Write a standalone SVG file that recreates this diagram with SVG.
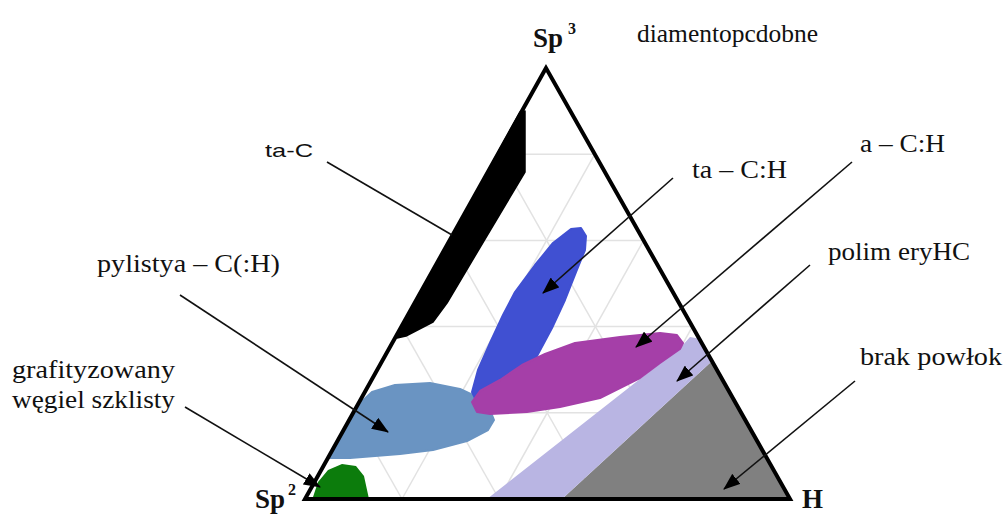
<svg xmlns="http://www.w3.org/2000/svg" width="1005" height="515" viewBox="0 0 1005 515">
<style>
.lbl{font-family:"Liberation Serif","Times New Roman",serif;font-size:25px;fill:#111}
.sans{font-family:"Liberation Sans",Arial,sans-serif;font-size:19px;fill:#111}
.vx{font-family:"Liberation Serif","Times New Roman",serif;font-weight:bold;fill:#111}
.grid{stroke:#e2e2e2;stroke-width:1.5;fill:none}
.con{stroke:#111;stroke-width:1.6;fill:none}
.arr{marker-end:url(#ah)}
</style>
<defs>
<marker id="ah" markerUnits="userSpaceOnUse" markerWidth="17" markerHeight="13" refX="16" refY="6.5" orient="auto">
<path d="M0,0 L17,6.5 L0,13 z" fill="#000"/>
</marker>
</defs>
<rect width="1005" height="515" fill="#fff"/>
<g id="grid">
<line class="grid" x1="497.8" y1="154.2" x2="594.8" y2="154.2"/>
<line class="grid" x1="449.6" y1="240.4" x2="643.6" y2="240.4"/>
<line class="grid" x1="401.4" y1="326.6" x2="692.4" y2="326.6"/>
<line class="grid" x1="353.2" y1="412.8" x2="741.2" y2="412.8"/>
<line class="grid" x1="402" y1="499" x2="594.8" y2="154.2"/>
<line class="grid" x1="499" y1="499" x2="643.6" y2="240.4"/>
<line class="grid" x1="596" y1="499" x2="692.4" y2="326.6"/>
<line class="grid" x1="693" y1="499" x2="741.2" y2="412.8"/>
<line class="grid" x1="693" y1="499" x2="497.8" y2="154.2"/>
<line class="grid" x1="596" y1="499" x2="449.6" y2="240.4"/>
<line class="grid" x1="499" y1="499" x2="401.4" y2="326.6"/>
<line class="grid" x1="402" y1="499" x2="353.2" y2="412.8"/>
</g>
<g id="brak-powlok-region"><polygon points="562,499 711,362 790,499" fill="#808080"/></g>
<g id="polimery-region"><polygon points="487,499 562,499 711,362 701,339 690,337 682,346" fill="#b9b5e3"/></g>
<g id="pylisty-region"><polygon points="358,405 372,392 395,385 430,383 460,389 475,396 490,410 494,420 488,430 467,441 433,450 400,454 350,458 330,458 336,445 348,425" fill="#6a94c2" stroke="#6a94c2" stroke-width="2" stroke-linejoin="round"/></g>
<g id="ta-CH-region"><polygon points="571,229 581,228 586,236 585,250 576,272 565,300 552,328 537,356 515,383 495,400 477,402 472,392 478,370 490,343 503,315 515,292 535,265 553,243" fill="#4050d2" stroke="#4050d2" stroke-width="2" stroke-linejoin="round"/></g>
<g id="a-CH-region"><polygon points="660,333 677,335 683,343 680,349 660,363 640,378 600,398 560,407 527,412 490,414 477,412 472,402 480,391 500,380 522,365 545,354 575,343 620,337" fill="#a53fa8" stroke="#a53fa8" stroke-width="2" stroke-linejoin="round"/></g>
<g id="grafit-region"><polygon points="313,497 318,482 328,470 342,464 356,466 364,476 369,499 310,499" fill="#0c7c0c"/></g>
<g id="ta-C-region"><polygon points="520,112 525,111 525,172 447,303 433,322 406,336 397,338" fill="#000" stroke="#000" stroke-width="1.5" stroke-linejoin="round"/></g>
<g id="triangle"><polygon points="546,68 305,499 790,499" fill="none" stroke="#000" stroke-width="4"/></g>
<g id="connectors">
<line class="con" x1="327" y1="162" x2="452" y2="235"/>
<line class="con arr" x1="673" y1="178" x2="543" y2="293"/>
<line class="con arr" x1="852" y1="162" x2="636" y2="347"/>
<line class="con arr" x1="810" y1="265" x2="677" y2="381"/>
<line class="con arr" x1="855" y1="381" x2="724" y2="489"/>
<line class="con arr" x1="180" y1="295" x2="388" y2="432"/>
<line class="con arr" x1="185" y1="407" x2="320" y2="487"/>
</g>
<g id="vertex-sp3"><text class="vx" x="533" y="47" font-size="27">Sp</text><text class="vx" x="568" y="34" font-size="16">3</text></g>
<g id="vertex-sp2"><text class="vx" x="255" y="508" font-size="27">Sp</text><text class="vx" x="288" y="495" font-size="16">2</text></g>
<g id="vertex-h"><text class="vx" x="802" y="508" font-size="27">H</text></g>
<g id="label-diament"><text class="lbl" x="637" y="42" font-size="23" textLength="181" lengthAdjust="spacingAndGlyphs">diamentopcdobne</text></g>
<g id="label-ta-C"><text class="sans" x="265" y="157" textLength="48" lengthAdjust="spacingAndGlyphs">ta-C</text></g>
<g id="label-ta-CH"><text class="lbl" x="692" y="178" textLength="95" lengthAdjust="spacingAndGlyphs">ta – C:H</text></g>
<g id="label-a-CH"><text class="lbl" x="860" y="152" textLength="85" lengthAdjust="spacingAndGlyphs">a – C:H</text></g>
<g id="label-pylisty"><text class="lbl" x="97" y="272" textLength="183" lengthAdjust="spacingAndGlyphs">pylistya – C(:H)</text></g>
<g id="label-polimery"><text class="lbl" x="828" y="260" textLength="142" lengthAdjust="spacingAndGlyphs">polim eryHC</text></g>
<g id="label-brak"><text class="lbl" x="860" y="365" textLength="142" lengthAdjust="spacingAndGlyphs">brak powłok</text></g>
<g id="label-grafit"><text class="lbl" x="12" y="378" textLength="163" lengthAdjust="spacingAndGlyphs">grafityzowany</text><text class="lbl" x="12" y="408" textLength="163" lengthAdjust="spacingAndGlyphs">węgiel szklisty</text></g>
</svg>
